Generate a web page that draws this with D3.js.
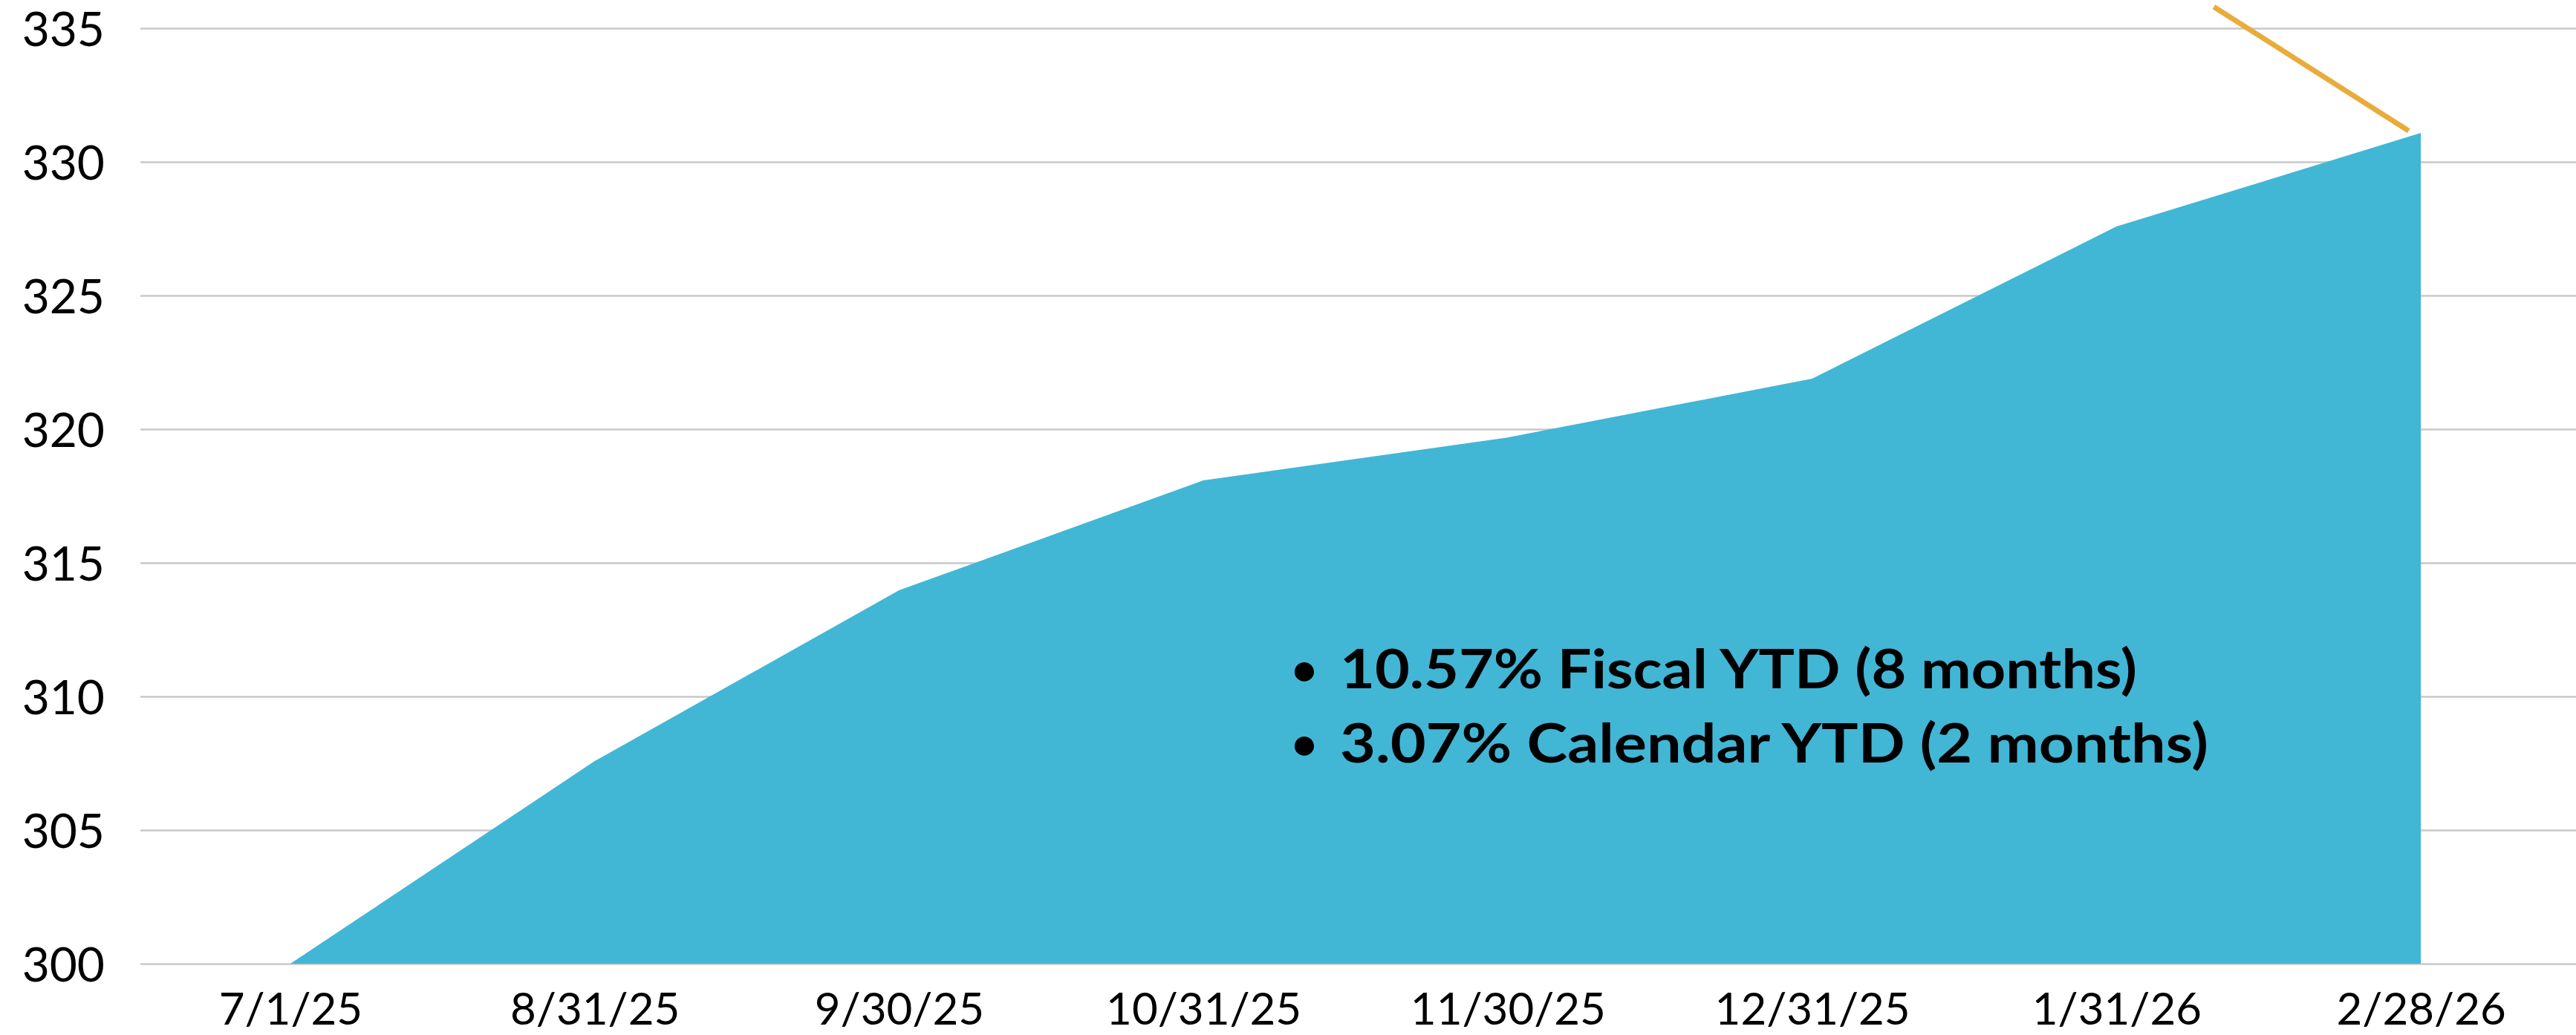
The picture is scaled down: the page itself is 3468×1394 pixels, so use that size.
<!DOCTYPE html>
<html lang="en">
<head>
    <meta charset="UTF-8">
    <title>Fiscal YTD</title>
    <script src="https://d3js.org/d3.v7.min.js"></script>
    <style>
        html, body { margin: 0; padding: 0; background: #fff; }
        .chart text { font-family: Lato, "Open Sans", sans-serif; fill: #000; }
    </style>
</head>
<body>
    <div class="chart"></div>
    <script>
        // data
        const dates = ['7/1/25', '8/31/25', '9/30/25', '10/31/25', '11/30/25', '12/31/25', '1/31/26', '2/28/26']
        const values = [300.0, 307.58, 313.97, 318.08, 319.69, 321.89, 327.58, 331.08]
        const yTicks = [300, 305, 310, 315, 320, 325, 330, 335]
        const notes = ['10.57% Fiscal YTD (8 months)', '3.07% Calendar YTD (2 months)']
        const noteWidths = [1073, 1169]
        // orange leader line, in category index / value units
        const leaderIdx = [6.32, 6.96]
        const leaderVal = [335.8, 331.16]

        const width = 3468, height = 1394

        const svg = d3.select('.chart')
            .append('svg')
            .attr('width', width)
            .attr('height', height)

        const x = d3.scalePoint()
            .domain(dates)
            .range([186, 3464])
            .padding(0.5)

        const y = d3.scaleLinear()
            .domain([300, 335])
            .range([1298, 38])

        // index scale for things between categories
        const xi = d3.scaleLinear()
            .domain([0, dates.length - 1])
            .range([x(dates[0]), x(dates[dates.length - 1])])

        // gridlines + y labels
        const yAxis = d3.axisLeft(y)
            .tickValues(yTicks)
            .tickSize(-(width - 189))
            .tickPadding(48)
        const yg = svg.append('g')
            .attr('transform', 'translate(189,0)')
            .call(yAxis)
        yg.select('.domain').remove()
        yg.selectAll('.tick line')
            .attr('stroke', '#c8c8c8')
            .attr('stroke-width', 2.5)
        yg.selectAll('.tick text')
            .attr('font-size', 64)
            .attr('fill', '#000')
            .attr('dy', '0.36em')

        // area
        const area = d3.area()
            .x((d, i) => x(dates[i]))
            .y0(y(300))
            .y1(d => y(d))
        svg.append('path')
            .attr('d', area(values))
            .attr('fill', '#42b6d5')

        // x labels
        const xAxis = d3.axisBottom(x)
            .tickSize(0)
            .tickPadding(0)
        const xg = svg.append('g')
            .attr('transform', 'translate(0,1380)')
            .call(xAxis)
        xg.select('.domain').remove()
        xg.selectAll('.tick text')
            .attr('font-size', 60)
            .attr('fill', '#000')
            .attr('dy', 0)
            .attr('y', 0)

        // orange leader line
        svg.append('line')
            .attr('x1', xi(leaderIdx[0]))
            .attr('y1', y(leaderVal[0]))
            .attr('x2', xi(leaderIdx[1]))
            .attr('y2', y(leaderVal[1]))
            .attr('stroke', '#e9ac3c')
            .attr('stroke-width', 7)

        // bullet notes
        const noteG = svg.append('g')
        notes.forEach((t, i) => {
            const by = 927 + i * 100
            noteG.append('text')
                .attr('x', 1756)
                .attr('y', by - 4)
                .attr('text-anchor', 'middle')
                .attr('font-size', 60)
                .attr('font-weight', 700)
                .text('•')
            noteG.append('text')
                .attr('x', 1804)
                .attr('y', by)
                .attr('font-size', 73)
                .attr('font-weight', 700)
                .attr('textLength', noteWidths[i])
                .attr('lengthAdjust', 'spacingAndGlyphs')
                .text(t)
        })
    </script>
</body>
</html>
